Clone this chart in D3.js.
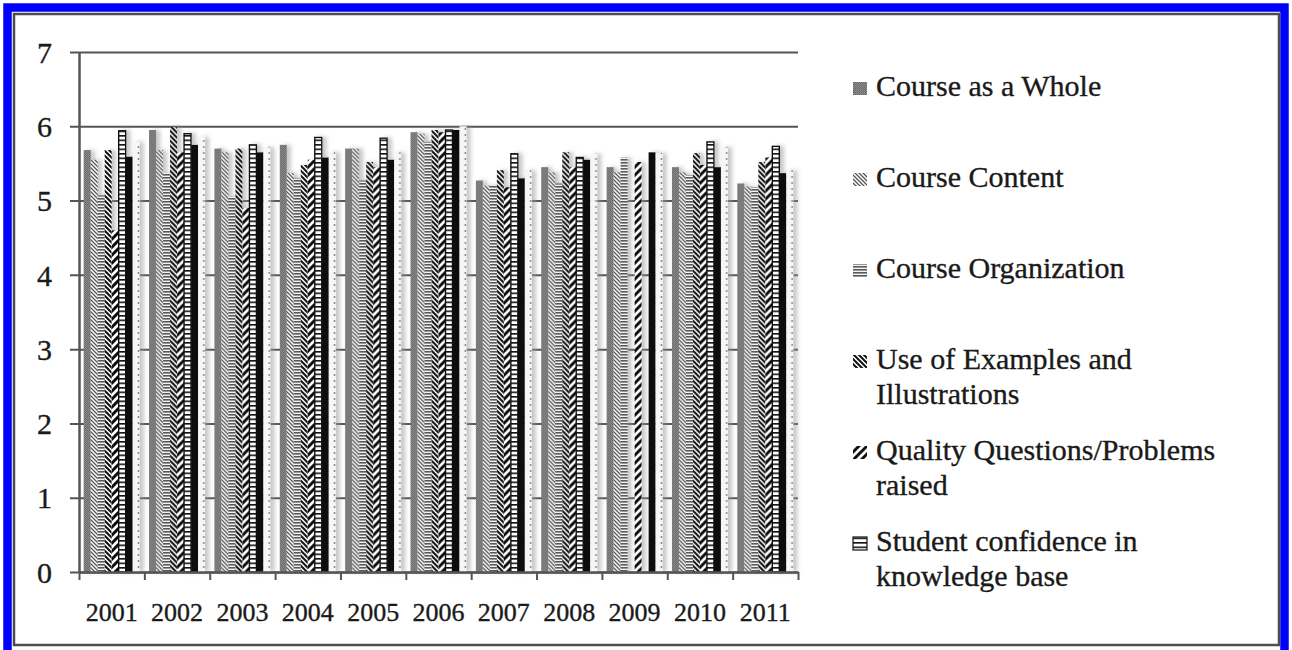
<!DOCTYPE html>
<html><head><meta charset="utf-8">
<script src="https://cdn.jsdelivr.net/npm/d3@7"></script>
<style>
body{margin:0;background:#fff;}
svg{display:block;}
text{font-family:"Liberation Serif","Times New Roman",serif;fill:#1a1a1a;stroke:#1a1a1a;stroke-width:0.35px;}
</style>
</head><body>
<svg id="chart" width="1292" height="650"></svg>
<script>
// ---------- data ----------
const years = ["2001","2002","2003","2004","2005","2006","2007","2008","2009","2010","2011"];
const seriesNames = ["Course as a Whole","Course Content","Course Organization",
  "Use of Examples and Illustrations","Quality Questions/Problems raised",
  "Student confidence in knowledge base","Item 7","Item 8"];
const courseWhole   = [5.68,5.95,5.70,5.75,5.70,5.92,5.27,5.45,5.45,5.45,5.23];
const courseContent = [5.55,5.68,5.65,5.37,5.70,5.90,5.20,5.38,5.38,5.38,5.19];
const courseOrg     = [5.07,5.37,5.05,5.30,5.27,5.79,5.20,5.23,5.58,5.34,5.18];
const useExamples   = [5.68,5.99,5.70,5.48,5.52,5.95,5.41,5.65,null,5.64,5.52];
const qualityQs     = [4.60,5.65,4.90,5.55,5.45,5.92,5.18,5.45,5.52,5.48,5.58];
const confidence    = [5.94,5.90,5.75,5.85,5.84,5.95,5.63,5.58,null,5.79,5.73];
const item7         = [5.59,5.75,5.65,5.58,5.55,5.95,5.30,5.55,5.65,5.45,5.37];
const item8         = [5.79,5.86,5.72,5.65,5.65,6.00,5.41,5.63,5.64,5.72,5.41];
const yTicks = [0,1,2,3,4,5,6,7];
const legendLines = [["Course as a Whole"],["Course Content"],["Course Organization"],
  ["Use of Examples and","Illustrations"],["Quality Questions/Problems","raised"],
  ["Student confidence in","knowledge base"]];

const seriesValues = [courseWhole,courseContent,courseOrg,useExamples,qualityQs,confidence,item7,item8];
const fills = ["url(#pWhole)","url(#pContent)","url(#pOrg)","url(#pEx)","url(#pQual)","url(#pConf)","#111","url(#pDot)"];

// ---------- layout ----------
const svg = d3.select("#chart");
const plotL = 79, plotR = 798, plotT = 52, plotB = 572;

// frames
svg.append("rect").attr("x",7.5).attr("y",7.5).attr("width",1277).attr("height",720)
  .attr("fill","none").attr("stroke","#0000ff").attr("stroke-width",8.5);
svg.append("rect").attr("x",14).attr("y",14).attr("width",1265).attr("height",631)
  .attr("fill","#fff").attr("stroke","#4d4d4d").attr("stroke-width",2.5);

// defs: patterns & shadow
const defs = svg.append("defs");
function pat(id,w,h,bg){
  const p = defs.append("pattern").attr("id",id).attr("patternUnits","userSpaceOnUse")
    .attr("width",w).attr("height",h);
  p.append("rect").attr("width",w).attr("height",h).attr("fill",bg);
  return p;
}
let p = pat("pWhole",2,2,"#8c8c8c");
p.append("rect").attr("width",1).attr("height",1).attr("fill","#666");
p.append("rect").attr("x",1).attr("y",1).attr("width",1).attr("height",1).attr("fill","#6e6e6e");
p = pat("pContent",4,4,"#fff");
p.append("path").attr("d","M-1,-1L5,5M-1,3L1,5M3,-1L5,1").attr("stroke","#555").attr("stroke-width",1.3);
p = pat("pOrg",4,3,"#f2f2f2");
p.append("rect").attr("width",4).attr("height",1.6).attr("fill","#5a5a5a");
p = pat("pEx",5,5,"#fff");
p.append("path").attr("d","M-1,-1L6,6M-1,4L1,6M4,-1L6,1").attr("stroke","#111").attr("stroke-width",2);
p = pat("pQual",8,8,"#fff");
p.append("path").attr("d","M-1,9L9,-1M-2,2L2,-2M6,10L10,6").attr("stroke","#111").attr("stroke-width",3);
p = pat("pConf",4,4.5,"#fff");
p.append("rect").attr("width",4).attr("height",1.6).attr("fill","#111");
p = pat("pDot",7,6,"#f6f6f6");
p.append("circle").attr("cx",3.5).attr("cy",3).attr("r",0.9).attr("fill","#777");

const f = defs.append("filter").attr("id","shadow").attr("x","-20%").attr("y","-10%")
  .attr("width","150%").attr("height","120%");
f.append("feDropShadow").attr("dx",4).attr("dy",0).attr("stdDeviation",2)
  .attr("flood-color","#999").attr("flood-opacity",0.55);

// scales
const y = d3.scaleLinear().domain([0,7]).range([plotB,plotT]);
const x0 = d3.scaleBand().domain(years).range([plotL,plotR]).padding(0);
const x1 = d3.scaleBand().domain(d3.range(seriesNames.length)).range([0,x0.bandwidth()])
  .paddingInner(0).paddingOuter(0.67);
const xEdge = d3.scaleLinear().domain([0,years.length]).range([plotL,plotR]);

// gridlines (with left tick stubs)
const grid = svg.append("g").attr("transform",`translate(${plotR},0)`)
  .call(d3.axisLeft(y).tickValues(yTicks).tickSize(plotR-70).tickFormat(""));
grid.select(".domain").remove();
grid.selectAll("line").attr("stroke","#555").attr("stroke-width",2);

// bars
const groups = svg.append("g").selectAll("g").data(years).join("g")
  .attr("transform",d=>`translate(${x0(d)},0)`).attr("filter","url(#shadow)");
groups.selectAll("rect")
  .data((yr,i)=>seriesValues.map((vals,s)=>({s, v: vals[i]})).filter(d=>d.v!=null))
  .join("rect")
  .attr("x",d=>x1(d.s)).attr("width",x1.bandwidth())
  .attr("y",d=>y(d.v)).attr("height",d=>y(0)-y(d.v))
  .attr("fill",d=>fills[d.s])
  .attr("stroke",d=>d.s===5?"#111":"none").attr("stroke-width",1.4);

// y axis
const yAx = svg.append("g").attr("transform",`translate(${plotL},0)`)
  .call(d3.axisLeft(y).tickValues(yTicks).tickSize(0).tickSizeOuter(0).tickPadding(27).tickFormat(d3.format("d")));
yAx.select(".domain").attr("stroke","#555").attr("stroke-width",2.5);
yAx.selectAll("text").style("font-size","30px").attr("dy","0.34em");

// x axis edges
const xAx = svg.append("g").attr("transform",`translate(0,${plotB})`)
  .call(d3.axisBottom(xEdge).tickValues(d3.range(years.length+1)).tickSize(8).tickSizeOuter(0).tickFormat(""));
xAx.select(".domain").attr("stroke","#555").attr("stroke-width",2.5);
xAx.selectAll("line").attr("stroke","#555").attr("stroke-width",2);

// x labels
const xLab = svg.append("g").attr("transform",`translate(0,${plotB})`)
  .call(d3.axisBottom(x0).tickSize(0).tickPadding(31));
xLab.select(".domain").remove();
xLab.selectAll("text").style("font-size","26px");

// legend
const legY = i => 96 + i*91;
const leg = svg.append("g").selectAll("g").data(legendLines).join("g")
  .attr("transform",(d,i)=>`translate(853,${legY(i)})`);
leg.append("rect").attr("x",0).attr("y",-14).attr("width",14).attr("height",13)
  .attr("fill",(d,i)=>fills[i]).attr("stroke",(d,i)=>i===5?"#111":"none").attr("stroke-width",1.2);
leg.append("text").attr("x",23).style("font-size","30px")
  .selectAll("tspan").data(d=>d).join("tspan")
  .attr("x",23).attr("dy",(d,i)=>i===0?0:35).text(d=>d);
</script>
</body></html>
